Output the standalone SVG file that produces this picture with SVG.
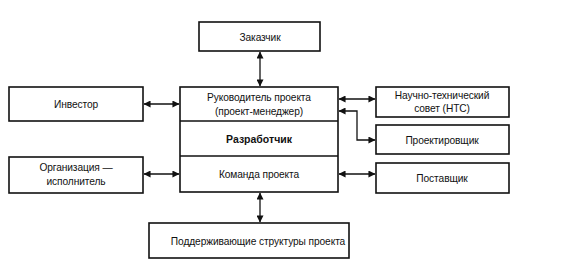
<svg xmlns="http://www.w3.org/2000/svg" width="583" height="272" viewBox="0 0 583 272">
<defs>
<marker id="ah" viewBox="0 0 8 8" refX="7.5" refY="4" markerWidth="7" markerHeight="7" markerUnits="userSpaceOnUse" orient="auto-start-reverse">
<path d="M0,0 L8,4 L0,8 Z" fill="#111"/>
</marker>
<style>
.box{fill:#fff;stroke:#111;stroke-width:1.6}
.t{font-family:"Liberation Sans",Arial,sans-serif;font-size:10.2px;letter-spacing:-0.1px;fill:#111;text-anchor:middle}
.b{font-weight:bold;font-size:10.5px;letter-spacing:0}
.c{fill:none;stroke:#111;stroke-width:1.3;marker-start:url(#ah);marker-end:url(#ah)}
</style>
</defs>
<rect width="583" height="272" fill="#fff"/>
<g id="connectors">
<path class="c" d="M260,52 V86"/>
<path class="c" d="M144,104 H179"/>
<path class="c" d="M339,99 H375"/>
<path class="c" d="M339,111 H357 V140 H375"/>
<path class="c" d="M144,174 H179"/>
<path class="c" d="M339,174 H375"/>
<path class="c" d="M260,193 V222"/>
</g>
<g id="zakazchik">
<rect class="box" x="199" y="22" width="121" height="29"/>
<text class="t" x="260" y="41">Заказчик</text>
</g>
<g id="investor">
<rect class="box" x="9" y="87" width="134" height="34"/>
<text class="t" x="76" y="108">Инвестор</text>
</g>
<g id="center">
<rect class="box" x="180" y="87" width="158" height="105"/>
<line x1="180" y1="121" x2="338" y2="121" stroke="#111" stroke-width="1.6"/>
<line x1="180" y1="156" x2="338" y2="156" stroke="#111" stroke-width="1.6"/>
<text class="t" x="259" y="101">Руководитель проекта</text>
<text class="t" x="259" y="115">(проект-менеджер)</text>
<text class="t b" x="259" y="143">Разработчик</text>
<text class="t" x="259" y="178">Команда проекта</text>
</g>
<g id="nts">
<rect class="box" x="376" y="87" width="133" height="30"/>
<text class="t" x="442" y="99">Научно-технический</text>
<text class="t" x="442" y="112">совет (НТС)</text>
</g>
<g id="proektirovshchik">
<rect class="box" x="376" y="125" width="133" height="29"/>
<text class="t" x="442" y="144">Проектировщик</text>
</g>
<g id="postavshchik">
<rect class="box" x="376" y="163" width="133" height="30"/>
<text class="t" x="442" y="182">Поставщик</text>
</g>
<g id="organizatsiya">
<rect class="box" x="9" y="157" width="134" height="36"/>
<text class="t" x="76" y="171">Организация —</text>
<text class="t" x="76" y="185">исполнитель</text>
</g>
<g id="podderzhka">
<rect class="box" x="149" y="223" width="200" height="35"/>
<text class="t" x="258" y="245">Поддерживающие структуры проекта</text>
</g>
</svg>
